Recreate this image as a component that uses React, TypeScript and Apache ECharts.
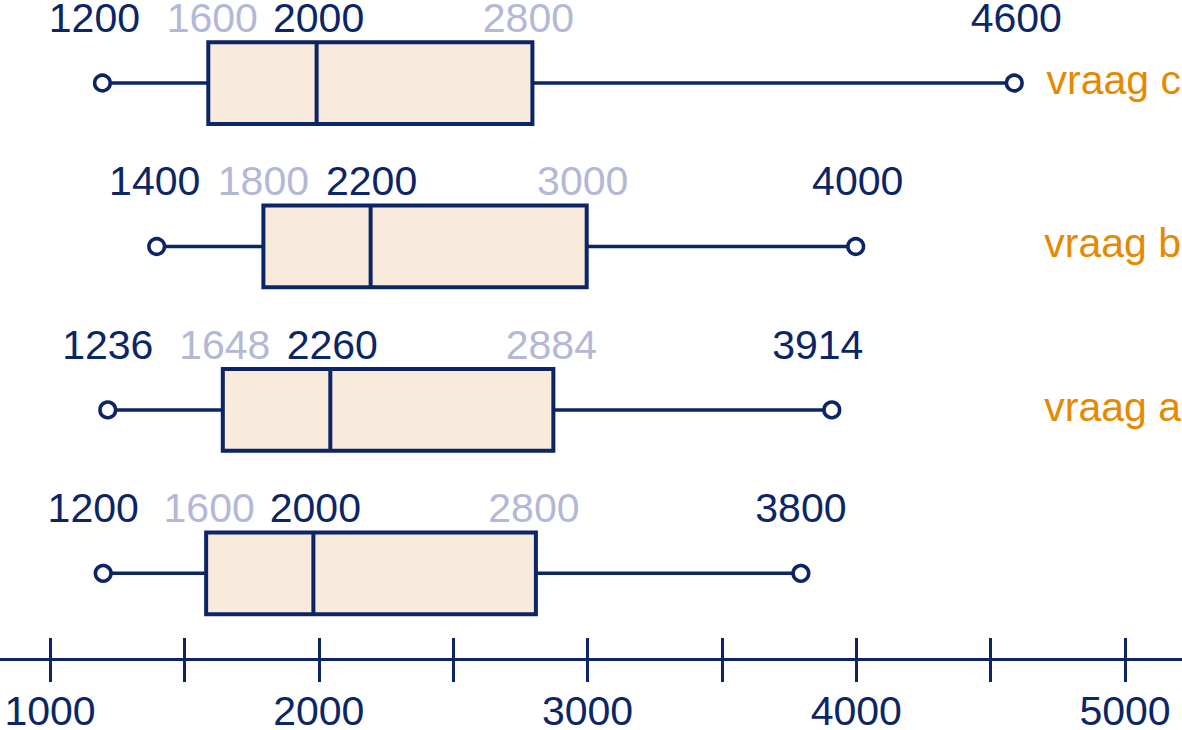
import React, { useEffect, useRef } from "react";
import * as echarts from "echarts";

// Rows from bottom (index 0) to top (index 3)
const categories = ["", "vraag a", "vraag b", "vraag c"];
const minimum = [1198, 1215, 1397, 1195];
const firstQuartile = [1581, 1643, 1794, 1589];
const median = [1980, 2043, 2193, 1992];
const thirdQuartile = [2808, 2873, 2997, 2795];
const maximum = [3794, 3909, 3998, 4588];

// Printed labels above each box (min, Q1, median, Q3, max)
const labelsMin = ["1200", "1236", "1400", "1200"];
const labelsQ1 = ["1600", "1648", "1800", "1600"];
const labelsMedian = ["2000", "2260", "2200", "2000"];
const labelsQ3 = ["2800", "2884", "3000", "2800"];
const labelsMax = ["3800", "3914", "4000", "4600"];

const tickValues = [1000, 1500, 2000, 2500, 3000, 3500, 4000, 4500, 5000];
const tickLabelValues = [1000, 2000, 3000, 4000, 5000];

// small horizontal nudges (px) of the printed labels, per row: [min, Q1, median, Q3, max]
const LABEL_NUDGE = [
  [-10, 3, 2, -2, 0],
  [0, 2, 2, -2, -14],
  [-2, 0, 1, -4, 2],
  [-8, 4, 2, -4, 2],
];

const NAVY = "#0b2566";
const LIGHT = "#b3b8d6";
const ORANGE = "#e58a00";
const FILL = "#f8ebdc";
const FONT = '41px "Liberation Sans", Arial, sans-serif';

export default function App() {
  const ref = useRef<HTMLDivElement>(null);

  useEffect(() => {
    if (!ref.current) return;
    const chart = echarts.init(ref.current, null, { renderer: "svg" });

    const data = categories.map((_, i) => [
      i,
      minimum[i],
      firstQuartile[i],
      median[i],
      thirdQuartile[i],
      maximum[i],
    ]);
    const labelRows = categories.map((_, i) => [
      labelsMin[i],
      labelsQ1[i],
      labelsMedian[i],
      labelsQ3[i],
      labelsMax[i],
    ]);
    const labelColors = [NAVY, LIGHT, NAVY, LIGHT, NAVY];

    const renderItem = (params: any, api: any) => {
      const row = api.value(0);
      const idx = params.dataIndex;
      const pts = [1, 2, 3, 4, 5].map((d) => api.coord([api.value(d), row]));
      const y = pts[0][1];
      const h = api.size([0, 0.5])[1] / 2;
      const children: any[] = [];
      children.push({
        type: "line",
        shape: { x1: pts[0][0], y1: y, x2: pts[1][0], y2: y },
        style: { stroke: NAVY, lineWidth: 3.5 },
      });
      children.push({
        type: "line",
        shape: { x1: pts[3][0], y1: y, x2: pts[4][0], y2: y },
        style: { stroke: NAVY, lineWidth: 3.5 },
      });
      children.push({
        type: "rect",
        shape: { x: pts[1][0], y: y - h, width: pts[3][0] - pts[1][0], height: 2 * h },
        style: { fill: FILL, stroke: NAVY, lineWidth: 4 },
      });
      children.push({
        type: "line",
        shape: { x1: pts[2][0], y1: y - h, x2: pts[2][0], y2: y + h },
        style: { stroke: NAVY, lineWidth: 4 },
      });
      [pts[0], pts[4]].forEach((p) => {
        children.push({
          type: "circle",
          shape: { cx: p[0], cy: y, r: 7.8 },
          style: { fill: "#ffffff", stroke: NAVY, lineWidth: 3.6 },
        });
      });
      labelRows[idx].forEach((t, k) => {
        children.push({
          type: "text",
          x: pts[k][0] + LABEL_NUDGE[idx][k],
          y: y - 65,
          style: {
            text: t,
            fill: labelColors[k],
            font: FONT,
            align: "center",
            verticalAlign: "middle",
          },
        });
      });
      if (categories[idx]) {
        children.push({
          type: "text",
          x: api.getWidth() - 1,
          y: y - 3,
          style: {
            text: categories[idx],
            fill: ORANGE,
            font: FONT,
            align: "right",
            verticalAlign: "middle",
          },
        });
      }
      return { type: "group", children };
    };

    const xMin = 813.95;
    const xMax = 5212.1;

    chart.setOption({
      animation: false,
      grid: {
        left: 0,
        right: 0,
        top: 0,
        bottom: 71,
        containLabel: false,
        outerBoundsMode: "none",
      },
      xAxis: [
        {
          type: "value",
          min: xMin,
          max: xMax,
          position: "bottom",
          splitLine: { show: false },
          axisLine: { show: true, onZero: false, lineStyle: { color: NAVY, width: 3 } },
          axisTick: {
            show: true,
            customValues: tickValues,
            length: 23,
            lineStyle: { color: NAVY, width: 3 },
          },
          axisLabel: {
            show: true,
            customValues: tickLabelValues,
            formatter: (v: number) => String(v),
            margin: 31,
            fontSize: 41,
            color: NAVY,
            fontFamily: '"Liberation Sans", Arial, sans-serif',
            showMinLabel: true,
            showMaxLabel: true,
          },
        },
        {
          type: "value",
          min: xMin,
          max: xMax,
          position: "bottom",
          splitLine: { show: false },
          axisLine: { show: false, onZero: false },
          axisTick: {
            show: true,
            inside: true,
            customValues: tickValues,
            length: 21,
            lineStyle: { color: NAVY, width: 3 },
          },
          axisLabel: { show: false },
        },
      ],
      yAxis: { type: "value", min: -0.524, max: 3.508, show: false },
      series: [
        {
          type: "custom",
          xAxisIndex: 0,
          clip: false,
          renderItem,
          encode: { x: [1, 2, 3, 4, 5], y: 0 },
          data,
        },
      ],
    });

    return () => chart.dispose();
  }, []);

  return (
    <div
      ref={ref}
      style={{ position: "fixed", left: 0, top: 0, width: 1182, height: 730, background: "#ffffff" }}
    />
  );
}
